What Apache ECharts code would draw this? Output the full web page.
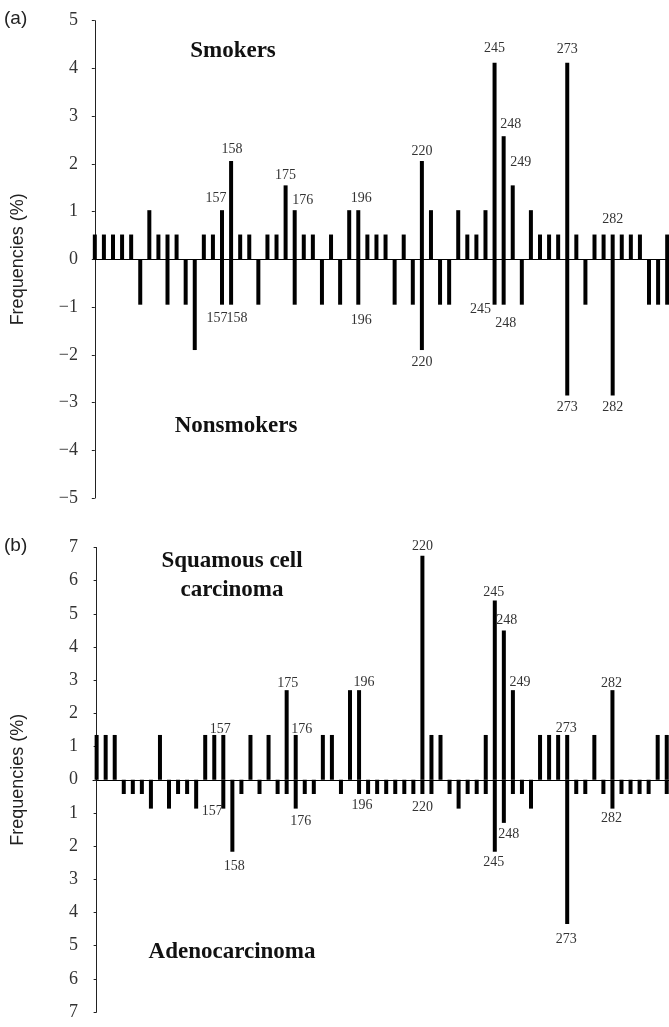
<!DOCTYPE html>
<html>
<head>
<meta charset="utf-8">
<script src="https://cdn.jsdelivr.net/npm/echarts@6/dist/echarts.min.js"></script>
<style>
  html, body { margin: 0; padding: 0; background: #fff; }
  #chart { width: 669px; height: 1027px; }
</style>
</head>
<body>
<div id="chart"></div>
<script>
// mutation positions along the p53 sequence, one slot each
const slots = Array.from({ length: 64 }, (_, i) => i);

// (a) frequencies (%) — smokers above the line, nonsmokers below
const smokers = [
  0.52, 0.52, 0.52, 0.52, 0.52, null, 1.03, 0.52, 0.52, 0.52,
  null, null, 0.52, 0.52, 1.03, 2.06, 0.52, 0.52, null, 0.52,
  0.52, 1.55, 1.03, 0.52, 0.52, null, 0.52, null, 1.03, 1.03,
  0.52, 0.52, 0.52, null, 0.52, null, 2.06, 1.03, null, null,
  1.03, 0.52, 0.52, 1.03, 4.12, 2.58, 1.55, null, 1.03, 0.52,
  0.52, 0.52, 4.12, 0.52, null, 0.52, 0.52, 0.52, 0.52, 0.52,
  0.52, null, null, 0.52
];
const nonsmokers = [
  null, null, null, null, null, -0.95, null, null, -0.95, null,
  -0.95, -1.9, null, null, -0.95, -0.95, null, null, -0.95, null,
  null, null, -0.95, null, null, -0.95, null, -0.95, null, -0.95,
  null, null, null, -0.95, null, -0.95, -1.9, null, -0.95, -0.95,
  null, null, null, null, -0.95, -0.95, null, -0.95, null, null,
  null, null, -2.85, null, -0.95, null, null, -2.85, null, null,
  null, -0.95, -0.95, -0.95
];

// (b) frequencies (%) — squamous cell carcinoma above, adenocarcinoma below
const squamous = [
  1.35, 1.35, 1.35, null, null, null, null, 1.35, null, null,
  null, null, 1.35, 1.35, 1.35, null, null, 1.35, null, 1.35,
  null, 2.7, 1.35, null, null, 1.35, 1.35, null, 2.7, 2.7,
  null, null, null, null, null, null, 6.75, 1.35, 1.35, null,
  null, null, null, 1.35, 5.4, 4.5, 2.7, null, null, 1.35,
  1.35, 1.35, 1.35, null, null, 1.35, null, 2.7, null, null,
  null, null, 1.35, 1.35
];
const adeno = [
  null, null, null, -0.43, -0.43, -0.43, -0.87, null, -0.87, -0.43,
  -0.43, -0.87, null, null, -0.87, -2.17, -0.43, null, -0.43, null,
  -0.43, -0.43, -0.87, -0.43, -0.43, null, null, -0.43, null, -0.43,
  -0.43, -0.43, -0.43, -0.43, -0.43, -0.43, -0.43, -0.43, null, -0.43,
  -0.87, -0.43, -0.43, -0.43, -2.17, -1.3, -0.43, -0.43, -0.87, null,
  null, null, -4.35, -0.43, -0.43, null, -0.43, -0.87, -0.43, -0.43,
  -0.43, -0.43, null, -0.43
];

// codon numbers printed at the hotspots: [slot, codon]
const smokersCodons = [[14, '157'], [15, '158'], [21, '175'], [22, '176'], [29, '196'], [36, '220'], [44, '245'], [45, '248'], [46, '249'], [52, '273'], [57, '282']];
const nonsmokersCodons = [[14, '157'], [15, '158'], [29, '196'], [36, '220'], [44, '245'], [45, '248'], [52, '273'], [57, '282']];
const squamousCodons = [[14, '157'], [21, '175'], [22, '176'], [29, '196'], [36, '220'], [44, '245'], [45, '248'], [46, '249'], [52, '273'], [57, '282']];
const adenoCodons = [[14, '157'], [15, '158'], [22, '176'], [29, '196'], [36, '220'], [44, '245'], [45, '248'], [52, '273'], [57, '282']];

// small label shifts so they sit where the original put them
const smokersNudge = { 157: [-6, 0], 158: [1, 0], 175: [0, 2], 176: [8, 2], 196: [3, 0], 220: [0, 2], 245: [0, -2], 248: [7, 0], 249: [8, -11], 273: [0, -1], 282: [0, -3] };
const nonsmokersNudge = { 157: [-5, 2], 158: [6, 2], 196: [3, 4], 220: [0, 0], 245: [-14, -7], 248: [2, 7], 273: [0, 0], 282: [0, 0] };
const squamousNudge = { 157: [-3, 2], 175: [1, 1], 176: [6, 2], 196: [5, 0], 220: [0, -1], 245: [-1, 0], 248: [3, -2], 249: [7, 0], 273: [-1, 1], 282: [-1, 1] };
const adenoNudge = { 157: [-11, -9], 158: [2, 3], 176: [5, 1], 196: [3, -1], 220: [0, 1], 245: [-1, -1], 248: [5, -1], 273: [-1, 3], 282: [-1, -2] };

const serif = "'Liberation Serif', 'Times New Roman', serif";
const sans = "'Liberation Sans', Arial, sans-serif";

function barSeries(values, codons, nudge, idx, pos, dist) {
  const names = Object.fromEntries(codons);
  return {
    type: 'bar',
    xAxisIndex: idx,
    yAxisIndex: idx,
    barWidth: 4,
    barGap: '-100%',
    silent: true,
    itemStyle: { color: '#000' },
    label: { fontFamily: serif, fontSize: 14, color: '#333' },
    data: values.map((v, i) => {
      const item = { value: [slots[i], v] };
      if (names[i]) {
        item.label = {
          show: true,
          position: pos,
          distance: dist,
          offset: nudge[names[i]] || [0, 0],
          formatter: names[i]
        };
      }
      return item;
    })
  };
}

function yAxis(idx, lim, fmt) {
  return {
    type: 'value',
    gridIndex: idx,
    min: -lim,
    max: lim,
    interval: 1,
    name: 'Frequencies (%)',
    nameLocation: 'middle',
    nameRotate: 90,
    nameGap: 66,
    nameTextStyle: { fontFamily: sans, fontSize: 18, color: '#222' },
    axisLine: { show: true, lineStyle: { color: '#222', width: 1 } },
    axisTick: { show: true, length: 3, lineStyle: { color: '#222' } },
    axisLabel: { margin: 15, fontFamily: serif, fontSize: 18, color: '#333', formatter: fmt },
    splitLine: { show: false }
  };
}

function xAxis(idx, min, max) {
  return {
    type: 'value',
    gridIndex: idx,
    min: min,
    max: max,
    axisLine: { show: true, onZero: true, lineStyle: { color: '#000', width: 1 } },
    axisTick: { show: false },
    axisLabel: { show: false },
    splitLine: { show: false }
  };
}

function heading(text, x, y) {
  return {
    type: 'text',
    x: x,
    y: y,
    style: { text: text, fontFamily: serif, fontWeight: 'bold', fontSize: 23, lineHeight: 29, fill: '#111', align: 'center', verticalAlign: 'middle' }
  };
}

const chart = echarts.init(document.getElementById('chart'));
chart.setOption({
  animation: false,
  backgroundColor: '#fff',
  grid: [
    { left: 93, right: 0, top: 20.7, height: 477.3 },
    { left: 93, right: 0, top: 547.5, height: 464.5 }
  ],
  xAxis: [xAxis(0, -0.2, 63.2), xAxis(1, -0.4, 63.25)],
  yAxis: [
    yAxis(0, 5, v => (v < 0 ? '\u2212' + (-v) : String(v))),
    yAxis(1, 7, v => String(Math.abs(v)))
  ],
  graphic: [
    { type: 'text', left: 4, top: 9, style: { text: '(a)', fontFamily: sans, fontSize: 19, fill: '#222' } },
    { type: 'text', left: 4, top: 536, style: { text: '(b)', fontFamily: sans, fontSize: 19, fill: '#222' } },
    heading('Smokers', 233, 51),
    heading('Nonsmokers', 236, 426),
    heading('Squamous cell\ncarcinoma', 232, 576),
    heading('Adenocarcinoma', 232, 952)
  ],
  series: [
    barSeries(smokers, smokersCodons, smokersNudge, 0, 'top', 5),
    barSeries(nonsmokers, nonsmokersCodons, nonsmokersNudge, 0, 'bottom', 5),
    barSeries(squamous, squamousCodons, squamousNudge, 1, 'top', 1),
    barSeries(adeno, adenoCodons, adenoNudge, 1, 'bottom', 5)
  ]
});
</script>
</body>
</html>
